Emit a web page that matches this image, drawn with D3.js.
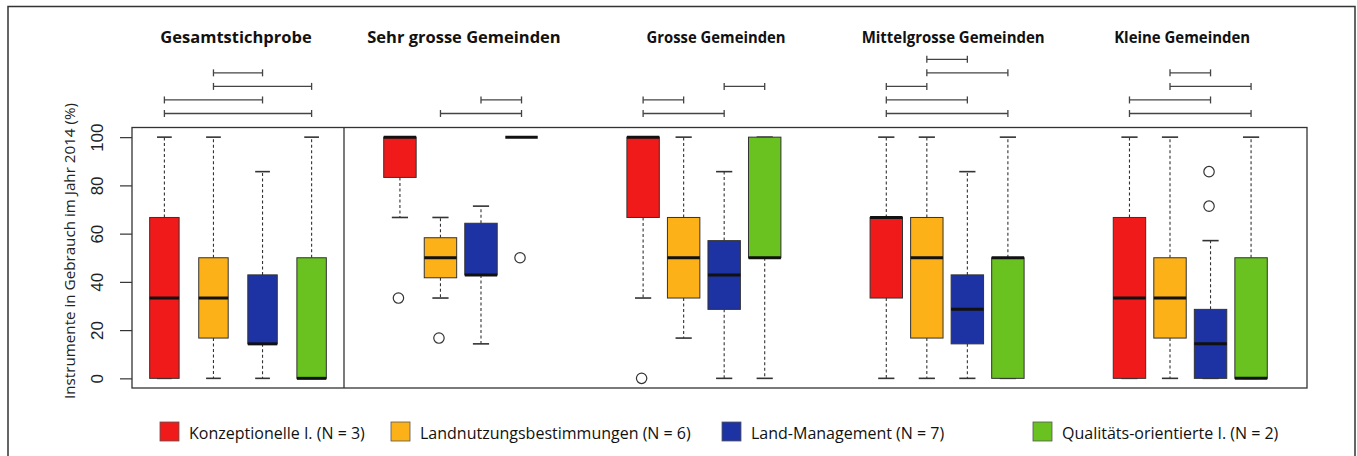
<!DOCTYPE html>
<html>
<head>
<meta charset="utf-8">
<script src="https://cdn.jsdelivr.net/npm/d3@7"></script>
<style>
  html, body { margin: 0; padding: 0; background: #fff; }
  svg { display: block; font-family: "Open Sans", sans-serif; }
</style>
</head>
<body>
<svg id="chart" width="1357" height="456"></svg>
<script>
// ---------------- DATA ----------------
const panelTitles = ["Gesamtstichprobe", "Sehr grosse Gemeinden", "Grosse Gemeinden", "Mittelgrosse Gemeinden", "Kleine Gemeinden"];
const groupLabels = ["Konzeptionelle I. (N = 3)", "Landnutzungsbestimmungen (N = 6)", "Land-Management (N = 7)", "Qualitäts-orientierte I. (N = 2)"];
const groupColors = ["#F01A1A", "#FBB117", "#1D33A3", "#69C21F"];
const yTicks = [0, 20, 40, 60, 80, 100];

// box statistics per panel: [lower whisker, Q1, median, Q3, upper whisker]
const konzeptionelle = [[0, 0, 33.3, 66.7, 100], [66.7, 83.3, 100, 100, 100], [33.3, 66.7, 100, 100, 100], [0, 33.3, 66.7, 66.7, 100], [0, 0, 33.3, 66.7, 100]];
const landnutzung    = [[0, 16.7, 33.3, 50, 100], [33.3, 41.7, 50, 58.3, 66.7], [16.7, 33.3, 50, 66.7, 100], [0, 16.7, 50, 66.7, 100], [0, 16.7, 33.3, 50, 100]];
const landManagement = [[0, 14.3, 14.3, 42.9, 85.7], [14.3, 42.9, 42.9, 64.3, 71.4], [0, 28.6, 42.9, 57.1, 85.7], [0, 14.3, 28.6, 42.9, 85.7], [0, 0, 14.3, 28.6, 57.1]];
const qualitaet      = [[0, 0, 0, 50, 100], [100, 100, 100, 100, 100], [0, 50, 50, 100, 100], [0, 0, 50, 50, 100], [0, 0, 0, 50, 100]];

// outliers per panel
const konzeptionelleOut = [[], [33.3], [0], [], []];
const landnutzungOut    = [[], [16.7], [], [], []];
const landManagementOut = [[], [], [], [], [85.7, 71.4]];
const qualitaetOut      = [[], [50], [], [], []];

// significance brackets per panel: [group a, group b, row]
const brackets = [
  [[1, 2, 3], [1, 3, 2], [0, 2, 1], [0, 3, 0]],
  [[2, 3, 1], [1, 3, 0]],
  [[2, 3, 2], [0, 1, 1], [0, 2, 0]],
  [[1, 2, 4], [1, 3, 3], [0, 1, 2], [0, 2, 1], [0, 3, 0]],
  [[1, 2, 3], [1, 3, 2], [0, 2, 1], [0, 3, 0]]
];

// ---------------- LAYOUT ----------------
const plot = { left: 132, right: 1307, top: 127.5, bottom: 388, split: 344 };
const titleSlot = [null, 2.58, 8.8, 14.65, 20.3]; // title centres (slot units) for panels 2-5
const titleWidth = [null, null, 139, 183, 136];   // tighter set titles
const legendX = [160, 391, 722, 1033];

const stats = [konzeptionelle, landnutzung, landManagement, qualitaet];
const outs = [konzeptionelleOut, landnutzungOut, landManagementOut, qualitaetOut];

const svg = d3.select("#chart");

// outer frame
svg.append("rect").attr("x", 8).attr("y", 6.5).attr("width", 1347).attr("height", 480)
  .attr("fill", "none").attr("stroke", "#333").attr("stroke-width", 1.5);

// y scale (R style 4% expansion)
const y = d3.scaleLinear().domain([-4, 104]).range([plot.bottom, plot.top]);

// x scales: first panel alone, then panels 2-5 share one axis with 2-slot gaps
const x1 = d3.scaleLinear().domain([0.34, 4.66]).range([plot.left, plot.split]);
const x2 = d3.scaleLinear().domain([-0.38, 23.38]).range([plot.split, plot.right]);

function xPos(p, g) {
  if (p === 0) return x1(g + 1);
  return x2(1 + (p - 1) * 6 + g);
}
function boxW(p) {
  return p === 0 ? x1(0.6) - x1(0) : x2(0.8) - x2(0);
}

// plot box
svg.append("rect").attr("x", plot.left).attr("y", plot.top)
  .attr("width", plot.right - plot.left).attr("height", plot.bottom - plot.top)
  .attr("fill", "none").attr("stroke", "#333").attr("stroke-width", 1.3);
svg.append("line").attr("x1", plot.split).attr("x2", plot.split)
  .attr("y1", plot.top).attr("y2", plot.bottom).attr("stroke", "#333").attr("stroke-width", 1.3);

// y axis
const yAxis = svg.append("g").attr("transform", `translate(${plot.left},0)`)
  .call(d3.axisLeft(y).tickValues(yTicks).tickSize(12).tickFormat(""));
yAxis.select(".domain").remove();
yAxis.selectAll(".tick line").attr("stroke", "#333").attr("stroke-width", 1.2);
yAxis.selectAll(".tick").append("text")
  .attr("transform", "translate(-35,0) rotate(-90)")
  .attr("text-anchor", "middle").attr("dy", "0.36em")
  .attr("fill", "#222").style("font-size", "17px")
  .text(d => d);

svg.append("text")
  .attr("transform", `translate(75,251) rotate(-90)`)
  .attr("text-anchor", "middle").attr("fill", "#222").style("font-size", "15.2px")
  .text("Instrumente in Gebrauch im Jahr 2014 (%)");

// titles
panelTitles.forEach((t, p) => {
  const cx = p === 0 ? x1(2.5) - 2 : x2(titleSlot[p]);
  const tx = svg.append("text").attr("x", cx).attr("y", 43)
    .attr("text-anchor", "middle").attr("font-weight", "bold")
    .attr("fill", "#111").style("font-size", "16.5px").text(t);
  if (titleWidth[p]) tx.attr("textLength", titleWidth[p]).attr("lengthAdjust", "spacingAndGlyphs");
});

// brackets
const rowY = r => 113.5 - 13.55 * r;
brackets.forEach((list, p) => {
  list.forEach(([a, b, r]) => {
    const g = svg.append("g").attr("stroke", "#444").attr("stroke-width", 1.3);
    const xa = xPos(p, a), xb = xPos(p, b), yy = rowY(r);
    g.append("line").attr("x1", xa).attr("x2", xb).attr("y1", yy).attr("y2", yy);
    g.append("line").attr("x1", xa).attr("x2", xa).attr("y1", yy - 3.5).attr("y2", yy + 3.5);
    g.append("line").attr("x1", xb).attr("x2", xb).attr("y1", yy - 3.5).attr("y2", yy + 3.5);
  });
});

// boxes
for (let p = 0; p < 5; p++) {
  for (let g = 0; g < 4; g++) {
    const [lo, q1, med, q3, hi] = stats[g][p];
    const cx = xPos(p, g), w = boxW(p), sw = w / 2;
    const G = svg.append("g");
    // whiskers
    G.append("line").attr("x1", cx).attr("x2", cx).attr("y1", y(q3)).attr("y2", y(hi))
      .attr("stroke", "#333").attr("stroke-width", 1.1).attr("stroke-dasharray", "3,2.5");
    G.append("line").attr("x1", cx).attr("x2", cx).attr("y1", y(q1)).attr("y2", y(lo))
      .attr("stroke", "#333").attr("stroke-width", 1.1).attr("stroke-dasharray", "3,2.5");
    // staples
    [lo, hi].forEach(v => {
      G.append("line").attr("x1", cx - sw / 2).attr("x2", cx + sw / 2).attr("y1", y(v)).attr("y2", y(v))
        .attr("stroke", "#333").attr("stroke-width", 1.6);
    });
    // box
    G.append("rect").attr("x", cx - w / 2).attr("y", y(q3)).attr("width", w)
      .attr("height", Math.max(0, y(q1) - y(q3)))
      .attr("fill", groupColors[g]).attr("stroke", "#333").attr("stroke-width", 1);
    // median
    G.append("line").attr("x1", cx - w / 2).attr("x2", cx + w / 2).attr("y1", y(med)).attr("y2", y(med))
      .attr("stroke", "#111").attr("stroke-width", 3);
    // outliers
    outs[g][p].forEach(v => {
      G.append("circle").attr("cx", cx - 1.5).attr("cy", y(v)).attr("r", 5.2)
        .attr("fill", "none").attr("stroke", "#333").attr("stroke-width", 1.2);
    });
  }
}

// legend
groupLabels.forEach((lab, g) => {
  svg.append("rect").attr("x", legendX[g]).attr("y", 422).attr("width", 19).attr("height", 19)
    .attr("fill", groupColors[g]).attr("stroke", "#555").attr("stroke-width", 0.8);
  svg.append("text").attr("x", legendX[g] + 29).attr("y", 439)
    .attr("fill", "#111").style("font-size", "16px").text(lab);
});
</script>
</body>
</html>
